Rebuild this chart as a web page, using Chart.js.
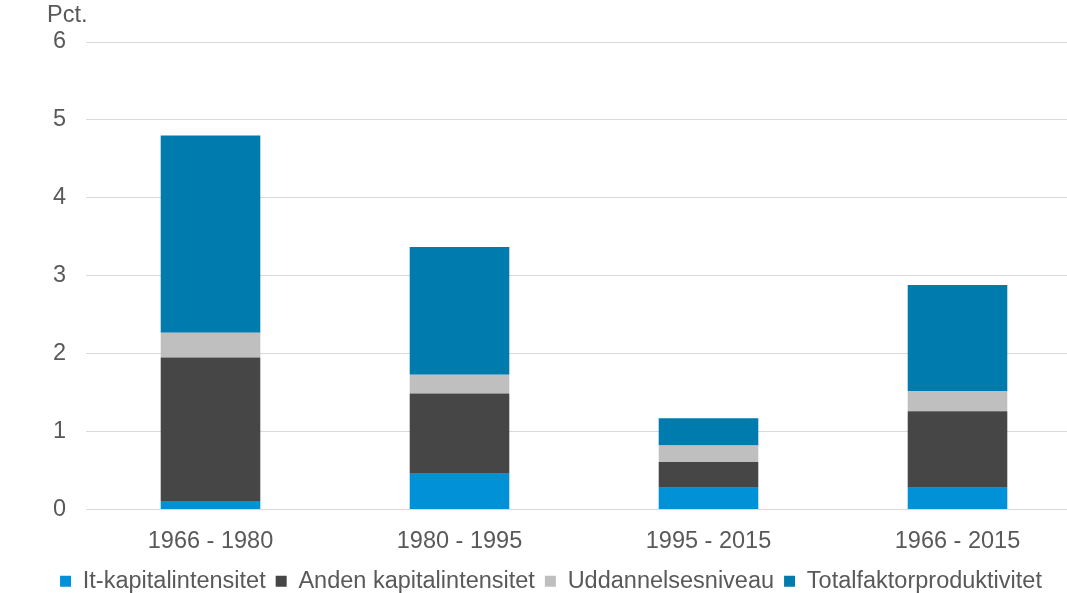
<!DOCTYPE html>
<html>
<head>
<meta charset="utf-8">
<script src="https://cdn.jsdelivr.net/npm/chart.js@4/dist/chart.umd.min.js"></script>
<style>
html,body{margin:0;padding:0;overflow:hidden;background:#fff;}
#wrap{width:1100px;height:593px;position:relative;}
</style>
</head>
<body>
<div id="wrap"><canvas id="c"></canvas></div>
<script>
const categories = ['1966 - 1980', '1980 - 1995', '1995 - 2015', '1966 - 2015'];
const itKapital = [0.11, 0.46, 0.28, 0.28];
const andenKapital = [1.84, 1.03, 0.33, 0.98];
const uddannelse = [0.32, 0.24, 0.21, 0.26];
const tfp = [2.53, 1.64, 0.35, 1.36];
const yTicks = [0, 1, 2, 3, 4, 5, 6];
const yUnit = 'Pct.';

const FONT = "'Liberation Sans', Arial, sans-serif";
const FS = 23.5;
const TXT = '#595959';

const pctPlugin = {
  id: 'pct',
  afterDraw(chart) {
    const ctx = chart.ctx;
    ctx.save();
    ctx.font = FS + 'px ' + FONT;
    ctx.fillStyle = TXT;
    ctx.textAlign = 'left';
    ctx.textBaseline = 'middle';
    ctx.fillText(yUnit, 47, 16);
    ctx.restore();
  }
};

new Chart(document.getElementById('c'), {
  type: 'bar',
  data: {
    labels: categories,
    datasets: [
      { label: 'It-kapitalintensitet', data: itKapital, backgroundColor: '#0091d6' },
      { label: 'Anden kapitalintensitet', data: andenKapital, backgroundColor: '#464646' },
      { label: 'Uddannelsesniveau', data: uddannelse, backgroundColor: '#bfbfbf' },
      { label: 'Totalfaktorproduktivitet', data: tfp, backgroundColor: '#007bae' }
    ]
  },
  options: {
    responsive: true,
    maintainAspectRatio: false,
    animation: false,
    devicePixelRatio: 1,
    layout: { padding: { left: 20, right: 18, top: 42, bottom: -10 } },
    datasets: { bar: { categoryPercentage: 1, barPercentage: 0.4, borderWidth: 0 } },
    plugins: {
      tooltip: { enabled: false },
      legend: {
        position: 'bottom',
        labels: {
          boxWidth: 11, boxHeight: 11, padding: 10,
          color: TXT,
          font: { family: FONT, size: FS }
        }
      }
    },
    scales: {
      x: {
        stacked: true,
        grid: { display: false },
        border: { display: false },
        ticks: { color: TXT, font: { family: FONT, size: FS }, padding: 10, maxRotation: 0 },
        afterFit(s) { s.height = 50; }
      },
      y: {
        stacked: true,
        min: 0, max: 6,
        afterBuildTicks(s) { s.ticks = yTicks.map(v => ({ value: v })); },
        grid: { color: '#d9d9d9', lineWidth: 1, drawTicks: false },
        border: { display: false },
        ticks: { color: TXT, font: { family: FONT, size: FS }, padding: 20 },
        afterFit(s) { s.width = 66; }
      }
    }
  },
  plugins: [pctPlugin]
});
</script>
</body>
</html>
